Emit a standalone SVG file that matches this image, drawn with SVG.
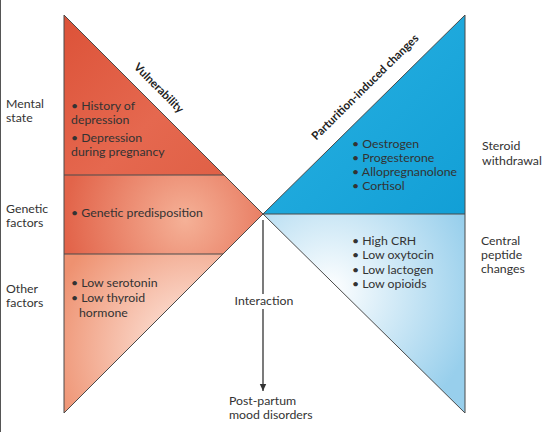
<svg xmlns="http://www.w3.org/2000/svg" width="550" height="432" viewBox="0 0 550 432">
<defs>
<style>
text{font-family:Lato,"Open Sans","DejaVu Sans",sans-serif;font-size:12.3px;fill:#333}
.edge{stroke:#4a4a4a;stroke-width:1;fill:none}
.title{font-weight:bold;font-size:11.5px;fill:#222}
</style>
<linearGradient id="gTopL" x1="0" y1="0" x2="1" y2="1">
<stop offset="0" stop-color="#dc5238"/><stop offset="0.6" stop-color="#e5684f"/><stop offset="1" stop-color="#e06046"/>
</linearGradient>
<radialGradient id="gMidL" gradientUnits="userSpaceOnUse" cx="185" cy="220" r="120">
<stop offset="0" stop-color="#f5b197"/><stop offset="1" stop-color="#e2644a"/>
</radialGradient>
<radialGradient id="gBotL" gradientUnits="userSpaceOnUse" cx="195" cy="350" r="150">
<stop offset="0" stop-color="#fff1ea"/><stop offset="1" stop-color="#ee9170"/>
</radialGradient>
<linearGradient id="gTopR" x1="0" y1="0" x2="1" y2="1">
<stop offset="0" stop-color="#2ab2e2"/><stop offset="1" stop-color="#129fd6"/>
</linearGradient>
<radialGradient id="gBotR" gradientUnits="userSpaceOnUse" cx="330" cy="290" r="150">
<stop offset="0" stop-color="#ffffff"/><stop offset="1" stop-color="#98cfec"/>
</radialGradient>
<marker id="arr" markerWidth="8" markerHeight="8" refX="7" refY="4" orient="auto" markerUnits="userSpaceOnUse">
<path d="M0,0.8 L7,4 L0,7.2 Z" fill="#333"/>
</marker>
</defs>
<rect width="550" height="432" fill="#fff"/>
<line x1="0.5" y1="0" x2="0.5" y2="432" stroke="#555" stroke-width="1"/>

<g id="vulnerability">
<polygon points="64,15 224,175 64,175" fill="url(#gTopL)"/>
<polygon points="64,175 224,175 263,214 223,254 64,254" fill="url(#gMidL)"/>
<polygon points="64,254 223,254 64,413" fill="url(#gBotL)"/>
<line class="edge" x1="64" y1="175" x2="224" y2="175"/>
<line class="edge" x1="64" y1="254" x2="223" y2="254"/>
<polyline class="edge" points="64,15 263,214 64,413 64,15"/>
<text class="title" text-anchor="middle" transform="translate(159,88) rotate(45)" dy="4">Vulnerability</text>
</g>

<g id="parturition">
<polygon points="263,214 465,15 465,214" fill="url(#gTopR)"/>
<polygon points="263,214 465,214 465,413" fill="url(#gBotR)"/>
<line class="edge" x1="263" y1="214" x2="465" y2="214"/>
<polyline class="edge" points="263,214 465,15 465,413 263,214"/>
<text class="title" text-anchor="middle" transform="translate(365,87) rotate(-44.6)" dy="4">Parturition-induced changes</text>
</g>

<g id="mental-state">
<text x="6" y="108">Mental</text>
<text x="6" y="122">state</text>
<text x="71" y="110">• History of</text>
<text x="71" y="124">depression</text>
<text x="71" y="142">• Depression</text>
<text x="71" y="156">during pregnancy</text>
</g>

<g id="genetic-factors">
<text x="6" y="213">Genetic</text>
<text x="6" y="227">factors</text>
<text x="71" y="217">• Genetic predisposition</text>
</g>

<g id="other-factors">
<text x="6" y="293">Other</text>
<text x="6" y="307">factors</text>
<text x="71" y="287">• Low serotonin</text>
<text x="71" y="302">• Low thyroid</text>
<text x="79" y="317">hormone</text>
</g>

<g id="steroid-withdrawal">
<text x="352" y="148">• Oestrogen</text>
<text x="352" y="162">• Progesterone</text>
<text x="352" y="176">• Allopregnanolone</text>
<text x="352" y="190">• Cortisol</text>
<text x="482" y="150">Steroid</text>
<text x="482" y="165">withdrawal</text>
</g>

<g id="central-peptide-changes">
<text x="352" y="245">• High CRH</text>
<text x="352" y="259">• Low oxytocin</text>
<text x="352" y="274">• Low lactogen</text>
<text x="352" y="288">• Low opioids</text>
<text x="481" y="245">Central</text>
<text x="481" y="259">peptide</text>
<text x="481" y="273">changes</text>
</g>

<g id="connectors">
<line x1="263" y1="220" x2="263" y2="294" stroke="#333" stroke-width="1.3"/>
<line x1="263" y1="309" x2="263" y2="391" stroke="#333" stroke-width="1.3" marker-end="url(#arr)"/>
</g>

<g id="interaction">
<text x="264" y="305" text-anchor="middle">Interaction</text>
</g>

<g id="outcome">
<text x="229" y="405">Post-partum</text>
<text x="229" y="419">mood disorders</text>
</g>
</svg>
